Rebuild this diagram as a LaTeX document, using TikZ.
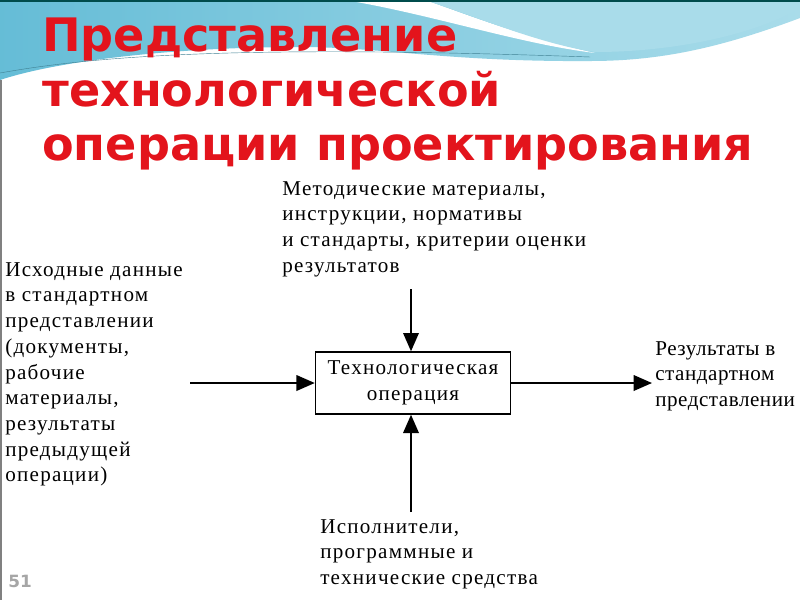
\documentclass[tikz,border=0pt]{standalone}
\usepackage{fontspec}
\setmainfont{Liberation Serif}
\newfontfamily\titlefont{DejaVu Sans}
\newfontfamily\diagfont{Liberation Serif}[LetterSpace=6]
\newfontfamily\diagnarrow{Liberation Serif}[LetterSpace=2.5]
\usetikzlibrary{arrows.meta}

\definecolor{wavemid}{HTML}{86CBE0}
\definecolor{wavelight}{HTML}{A9DCEA}
\definecolor{wavedark}{HTML}{5DB9D4}
\definecolor{titlered}{HTML}{E3141C}

\begin{document}
\begin{tikzpicture}
			[x=0.025cm,y=-0.025cm,
			 lbl/.style={align=left,inner sep=0pt,anchor=north west,font=\diagfont\fontsize{15}{18.3}\selectfont},
			 opbox/.style={draw,line width=1pt,minimum width=4.875cm,minimum height=1.55cm,align=center,inner sep=0pt,font=\diagfont\fontsize{15}{18.3}\selectfont},
			 flow/.style={line width=1.4pt,-{Triangle[length=13pt,width=11pt]}}]
			\useasboundingbox (0,0) rectangle (800,600);
			% slide background
			\fill[white] (0,0) rectangle (800,600);
			\shade[left color=wavedark!80!wavemid,right color=wavelight] (0,0) -- (800,0) -- (800,18) .. controls (720,48) and (660,61) .. (590,61) .. controls (450,62) and (380,47) .. (300,47) .. controls (180,47) and (60,60) .. (0,80) -- cycle;
			\fill[white] (345,0) .. controls (430,14) and (520,44) .. (595,53) .. controls (520,36) and (460,12) .. (425,0) -- cycle;
			\fill[wavelight] (425,0) .. controls (480,18) and (540,44) .. (595,52) .. controls (680,52) and (760,32) .. (800,8) -- (800,0) -- cycle;
			\draw[wavedark!70!black,line width=0.3pt] (0,73) .. controls (100,55) and (250,45) .. (590,57);
			\fill[teal!60!black] (0,0) rectangle (800,2);
			\fill[gray] (0,80) rectangle (2,600);
			% title
			\node[align=left,inner sep=0pt,anchor=north west,text=titlered,font=\titlefont\bfseries\fontsize{32.8}{38.5}\selectfont] (title) at (42,18)
				{Представление\\технологической\\операции проектирования};
			% diagram
			\node[opbox] (op) at (413,383) {Технологическая\\операция};
			\node[lbl] (ctrl) at (282,181) {Методические материалы,\\инструкции, нормативы\\и стандарты, критерии оценки\\результатов};
			\node[lbl] (inp) at (5,262) {Исходные данные\\в стандартном\\представлении\\(документы,\\рабочие\\материалы,\\результаты\\предыдущей\\операции)};
			\node[lbl,font=\diagnarrow\fontsize{15}{18.3}\selectfont] (outp) at (655,341) {Результаты в\\стандартном\\представлении};
			\node[lbl] (mech) at (320,519) {Исполнители,\\программные и\\технические средства};
			\node[text=gray!70,font=\titlefont\bfseries\fontsize{12}{14}\selectfont] (pagenum) at (20,581) {51};
			\coordinate (inL) at (190,383);
			\coordinate (outR) at (652,383);
			\coordinate (ctrlT) at (411,289);
			\coordinate (mechB) at (411,512);
			
			\foreach \from/\to in {inL/op.west,op.east/outR,ctrlT/ctrlT |- op.north,mechB/mechB |- op.south}
			\draw[flow] (\from) -- (\to);
			\end{tikzpicture}
\end{document}
